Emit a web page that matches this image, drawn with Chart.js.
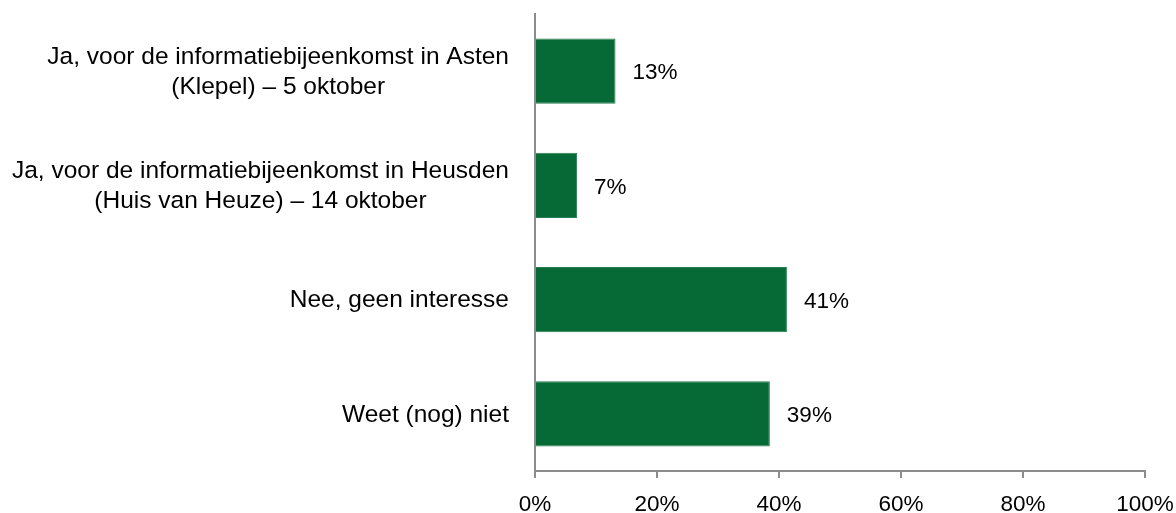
<!DOCTYPE html>
<html>
<head>
<meta charset="utf-8">
<style>
  html, body { margin: 0; padding: 0; background: #ffffff; }
  #wrap { width: 1176px; height: 513px; }
</style>
</head>
<body>
<div id="wrap">
  <canvas id="surveyChart" width="1176" height="513"></canvas>
</div>

<script src="https://cdn.jsdelivr.net/npm/chart.js"></script>

<script>
  // categories, each one split into its label lines
  const categories = [
      ['Ja, voor de informatiebijeenkomst in Asten', '(Klepel) \u2013 5 oktober'],
      ['Ja, voor de informatiebijeenkomst in Heusden', '(Huis van Heuze) \u2013 14 oktober'],
      ['Nee, geen interesse'],
      ['Weet (nog) niet'],
  ];

  // share of respondents, percent
  const shares = [13.2, 6.9, 41.3, 38.5];
  const shareLabels = ['13%', '7%', '41%', '39%'];

  // x axis ticks
  const xTicks = [0, 20, 40, 60, 80, 100];

  const fontFamily = '"Liberation Sans", Arial, sans-serif';
  const labelFont = '24.5px ' + fontFamily;
  const numberFont = '22.5px ' + fontFamily;
  const axisGrey = '#8c8c8c';

  // draws the category labels: lines centred on each other, block right aligned
  const categoryLabels = {
      id: 'categoryLabels',
      afterDraw(chart) {
          const ctx = chart.ctx;
          const yScale = chart.scales.y;
          const rightEdge = yScale.right - 26;
          ctx.save();
          ctx.font = labelFont;
          ctx.fillStyle = '#000000';
          ctx.textAlign = 'center';
          ctx.textBaseline = 'middle';
          categories.forEach(function (lines, i) {
              var widest = 0;
              lines.forEach(function (l) { widest = Math.max(widest, ctx.measureText(l).width); });
              var cx = rightEdge - widest / 2;
              var cy = yScale.getPixelForTick(i);
              lines.forEach(function (l, j) {
                  ctx.fillText(l, cx, cy + 1 + (j - (lines.length - 1) / 2) * 30);
              });
          });
          ctx.restore();
      }
  };

  // value labels right of each bar
  const valueLabels = {
      id: 'valueLabels',
      afterDatasetsDraw(chart) {
          const ctx = chart.ctx;
          const meta = chart.getDatasetMeta(0);
          ctx.save();
          ctx.font = numberFont;
          ctx.fillStyle = '#000000';
          ctx.textAlign = 'left';
          ctx.textBaseline = 'middle';
          meta.data.forEach(function (bar, i) {
              ctx.fillText(shareLabels[i], bar.x + 17, bar.y + 2);
          });
          ctx.restore();
      }
  };

  const ctx = document.getElementById('surveyChart');
  var surveyChart = new Chart(ctx, {
      type: 'bar',
      plugins: [categoryLabels, valueLabels],
      data: {
          labels: categories.map(function (c) { return c.join(' '); }),
          datasets: [
              {
                  label: 'Aandeel',
                  data: shares,
                  backgroundColor: '#066a37',
                  borderColor: '#2a7d52',
                  borderWidth: 1,
                  categoryPercentage: 1.0,
                  barPercentage: 0.57,
              },
          ]
      },
      options: {
          indexAxis: 'y',
          responsive: false,
          animation: false,
          layout: {
              padding: { top: 14, right: 31, bottom: 0, left: 0 }
          },
          plugins: {
              legend: { display: false },
              title: { display: false },
              tooltip: { enabled: false },
          },
          scales: {
              x: {
                  min: 0,
                  max: 100,
                  afterBuildTicks: function (scale) {
                      scale.ticks = xTicks.map(function (v) { return { value: v }; });
                  },
                  afterFit: function (scale) {
                      scale.height = 42;
                      scale.paddingLeft = 0;
                      scale.paddingRight = 0;
                  },
                  grid: {
                      drawOnChartArea: false,
                      drawTicks: true,
                      tickLength: 7,
                      color: axisGrey,
                      lineWidth: 2,
                  },
                  border: { display: true, color: axisGrey, width: 2 },
                  ticks: {
                      padding: 13,
                      color: '#000000',
                      maxRotation: 0,
                      font: { family: fontFamily, size: 22.5 },
                      callback: function (value) { return value + '%'; }
                  }
              },
              y: {
                  afterFit: function (scale) {
                      scale.width = 535;
                  },
                  grid: { display: false },
                  border: { display: true, color: axisGrey, width: 2 },
                  ticks: { display: false }
              }
          }
      }
  });
</script>
</body>
</html>
